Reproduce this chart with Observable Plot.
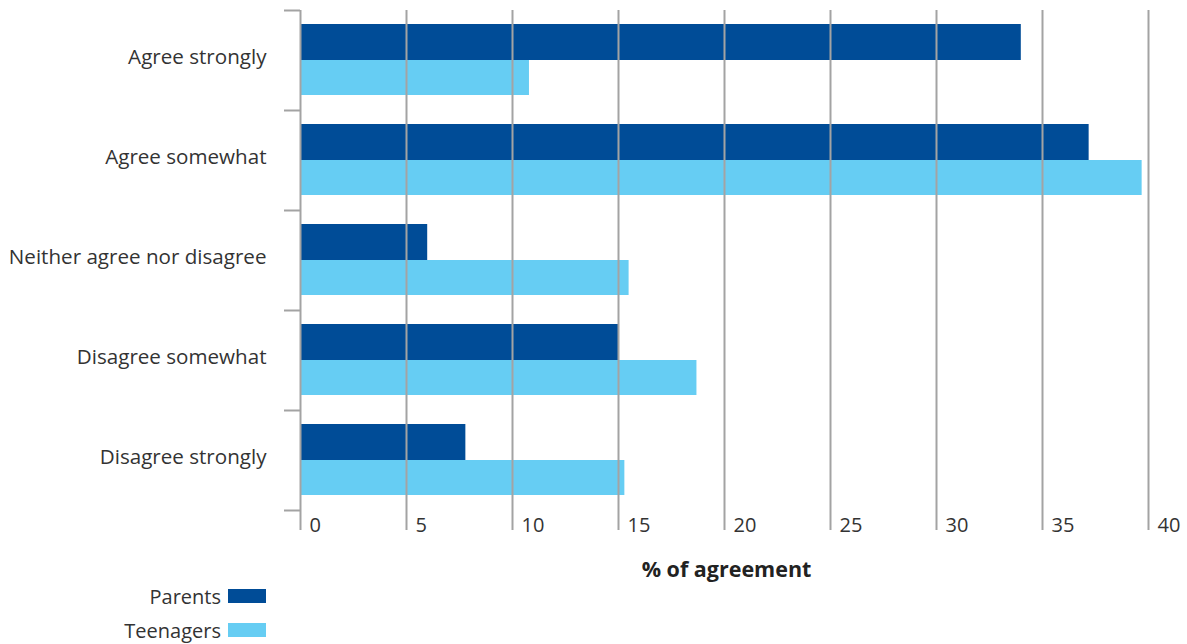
<!DOCTYPE html>
<html>
<head>
<meta charset="utf-8">
<script src="https://cdn.jsdelivr.net/npm/d3@7"></script>
<script src="https://cdn.jsdelivr.net/npm/@observablehq/plot@0.6"></script>
<style>
  html, body { margin: 0; padding: 0; background: #fff; }
  body { width: 1187px; height: 644px; overflow: hidden; font-family: "Open Sans", Roboto, sans-serif; color: #333; }
  #legend { width: 266px; margin-top: -3px; }
  .row { display: flex; justify-content: flex-end; align-items: center; height: 34px; font-size: 20px; }
  .sw { width: 38px; height: 14px; margin-left: 7px; }
</style>
</head>
<body>
<div id="chart"></div>
<div id="legend"></div>
<script>
const categories = ["Agree strongly", "Agree somewhat", "Neither agree nor disagree", "Disagree somewhat", "Disagree strongly"];
const seriesNames = ["Parents", "Teenagers"];
const parentsValues = [34.0, 37.2, 6.0, 15.0, 7.8];
const teenagersValues = [10.8, 39.7, 15.5, 18.7, 15.3];
const xTicks = [0, 5, 10, 15, 20, 25, 30, 35, 40];
const axisTitle = "% of agreement";
const colors = ["#004C97", "#66CDF3"];

const parents = categories.map((c, i) => ({category: c, value: parentsValues[i]}));
const teens = categories.map((c, i) => ({category: c, value: teenagersValues[i]}));

const font = "'Open Sans', Roboto, sans-serif";
const gridColor = "#a3a3a3";
const chart = Plot.plot({
  width: 1187,
  height: 582,
  marginLeft: 300,
  marginRight: 39,
  marginTop: 10,
  marginBottom: 72,
  style: {fontFamily: font, fontSize: "20px", color: "#333", background: "#fff"},
  x: {domain: [0, 40]},
  y: {domain: categories, padding: 0},
  marks: [
    Plot.barX(parents, {x: "value", y: "category", fill: colors[0], insetTop: 14, insetBottom: 50}),
    Plot.barX(teens, {x: "value", y: "category", fill: colors[1], insetTop: 50, insetBottom: 15}),
    Plot.gridX(xTicks, {stroke: gridColor, strokeOpacity: 1, strokeWidth: 2}),
    Plot.axisX({ticks: xTicks, tickSize: 20, stroke: gridColor, strokeWidth: 2, fill: "none", label: null}),
    Plot.axisX({ticks: xTicks, tickSize: 0, tickPadding: 7, textAnchor: "start", dx: 9, fontSize: 20, fill: "#333", label: null}),
    Plot.axisY({tickSize: 0, tickPadding: 34, dy: -3, fontSize: 20.6, fill: "#333", label: null}),
    Plot.axisY({tickSize: 16, stroke: gridColor, strokeWidth: 2, fill: "none", dy: -50, label: null}),
    Plot.axisY({ticks: [categories[categories.length - 1]], tickSize: 16, stroke: gridColor, strokeWidth: 2, fill: "none", dy: 50, label: null}),
    Plot.text([axisTitle], {frameAnchor: "bottom", lineAnchor: "middle", dy: 60, dx: 2, fontWeight: "bold", fontSize: 21.5, fill: "#222"})
  ]
});
document.getElementById("chart").appendChild(chart);

const legend = document.getElementById("legend");
seriesNames.forEach((name, i) => {
  const row = document.createElement("div");
  row.className = "row";
  const label = document.createElement("span");
  label.textContent = name;
  const sw = document.createElement("span");
  sw.className = "sw";
  sw.style.background = colors[i];
  row.appendChild(label);
  row.appendChild(sw);
  legend.appendChild(row);
});
</script>
</body>
</html>
